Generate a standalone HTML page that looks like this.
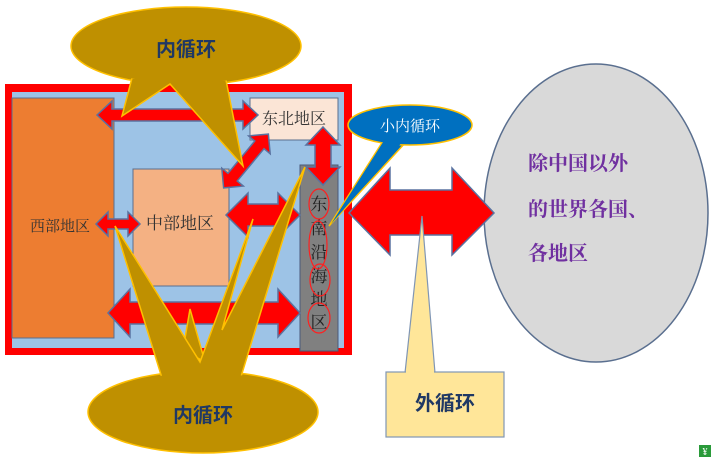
<!DOCTYPE html>
<html><head><meta charset="utf-8"><style>
html,body{margin:0;padding:0;background:#fff;width:713px;height:458px;overflow:hidden}
svg{display:block}
text{font-family:"Liberation Serif","Noto Serif CJK SC",serif}
.b{font-family:"Liberation Sans","Noto Sans CJK SC",sans-serif;font-weight:bold}
</style></head><body>
<svg width="713" height="458" viewBox="0 0 713 458">
<rect x="5" y="84" width="347" height="271" fill="#ff0000"/>
<rect x="12" y="92" width="332" height="256" fill="#9dc3e6"/>
<rect x="12" y="98" width="102" height="240" fill="#ed7d31" stroke="#5a6f8f" stroke-width="1"/>
<rect x="133" y="169" width="96" height="117" fill="#f4b183" stroke="#5a6f8f" stroke-width="1"/>
<rect x="250" y="98" width="88" height="42" fill="#fbe5d6" stroke="#5a6f8f" stroke-width="1"/>
<rect x="300" y="165" width="38" height="186" fill="#808080" stroke="#4a5a7a" stroke-width="1"/>
<text x="60" y="231" font-size="15" fill="#333" text-anchor="middle">西部地区</text>
<text x="180" y="229" font-size="17" fill="#333" text-anchor="middle">中部地区</text>
<text x="294" y="124" font-size="16" fill="#333" text-anchor="middle">东北地区</text>
<g font-size="17" fill="#222" text-anchor="middle">
<text x="319" y="210">东</text><text x="319" y="234">南</text><text x="319" y="258">沿</text><text x="319" y="282">海</text><text x="319" y="305">地</text><text x="319" y="328">区</text>
</g>
<g fill="none" stroke="#ff2020" stroke-width="1.2">
<ellipse cx="319" cy="204" rx="10" ry="15"/><ellipse cx="318" cy="245" rx="9" ry="24"/><ellipse cx="320" cy="280" rx="10" ry="16"/><ellipse cx="319" cy="318" rx="11" ry="15"/>
</g>
<g fill="#ff0000" stroke="#5a72a0" stroke-width="1.5">
<polygon points="97,115 112,101 112,109 243,109 243,101 258,115 243,129 243,121 112,121 112,129"/>
<polygon transform="translate(246,161) rotate(129.7)" points="-35,0 -21,-14 -21,-6 21,-6 21,-14 35,0 21,14 21,6 -21,6 -21,14"/>
<polygon transform="translate(323,156) rotate(90)" points="-29,0 -11,-17 -11,-8 11,-8 11,-17 29,0 11,17 11,8 -11,8 -11,17"/>
<polygon points="96,224 108,212 108,219 128,219 128,212 140,224 128,236 128,229 108,229 108,236"/>
<polygon points="226,215 248,193 248,204 278,204 278,193 300,215 278,237 278,226 248,226 248,237"/>
<polygon points="108,313 130,289 130,302 278,302 278,289 300,313 278,337 278,324 130,324 130,337"/>
</g>
<ellipse cx="596" cy="213" rx="112" ry="149" fill="#d9d9d9" stroke="#5a6f8f" stroke-width="1.5"/>
<polygon points="349,213 390,168 390,190 452,190 452,168 494,213 452,255 452,235 390,235 390,255" fill="#ff0000" stroke="#5a72a0" stroke-width="1.5"/>
<g class="b" font-size="20" fill="#7030a0">
<text x="528" y="170">除中国以外</text>
<text x="528" y="216">的世界各国、</text>
<text x="528" y="260">各地区</text>
</g>
<g fill="#bf9000" stroke="#ffc000" stroke-width="1.5">
<ellipse cx="186" cy="46" rx="115" ry="39"/>
<polygon points="132,78 122,116 170,84 243,166 226,80"/>
</g>
<ellipse cx="186" cy="46" rx="113" ry="37" fill="#bf9000"/>
<text x="186" y="56" class="b" font-size="20" fill="#1f3864" text-anchor="middle">内循环</text>
<g fill="#bf9000" stroke="#ffc000" stroke-width="1.5">
<polygon points="183,350 190,309 205,362"/>
<ellipse cx="203" cy="412" rx="115" ry="41"/>
<polygon points="162,378 115,226 200,362 253,219 222,330 305,167 240,380"/>
</g>
<ellipse cx="203" cy="412" rx="113" ry="39" fill="#bf9000"/>
<text x="203" y="422" class="b" font-size="20" fill="#1f3864" text-anchor="middle">内循环</text>
<g fill="#0070c0" stroke="#ffc000" stroke-width="1.5">
<polygon points="385,138 329,226 406,142"/>
<ellipse cx="410" cy="125" rx="62" ry="20"/>
</g>
<polygon points="387,136 331,224 404,140" fill="#0070c0"/>
<text x="410" y="131" font-size="15" fill="#fff" text-anchor="middle">小内循环</text>
<polygon points="405,373 422,216 435,373" fill="#ffe699" stroke="#8096b4" stroke-width="1.2"/>
<rect x="386" y="372" width="118" height="65" fill="#ffe699" stroke="#8096b4" stroke-width="1.2"/>
<rect x="406" y="371" width="28" height="3" fill="#ffe699"/>
<text x="445" y="410" class="b" font-size="20" fill="#1f3864" text-anchor="middle">外循环</text>
<rect x="699" y="445" width="12" height="12" fill="#2a9a3a"/>
<text x="705" y="455" font-size="10" fill="#fff" text-anchor="middle">¥</text>
</svg>
</body></html>
